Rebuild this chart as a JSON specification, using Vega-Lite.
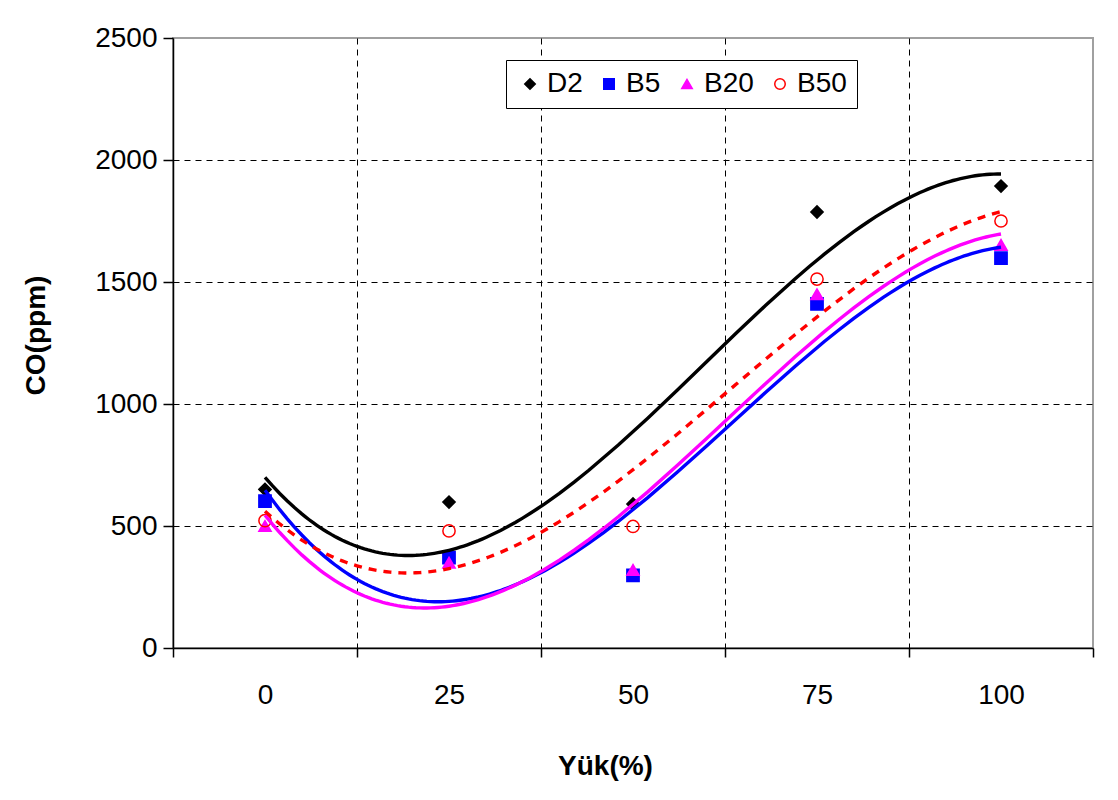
{
  "$schema": "https://vega.github.io/schema/vega-lite/v6.json",
  "width": 920,
  "height": 610,
  "autosize": {"type": "none"},
  "padding": {"left": 173, "top": 38, "right": 25, "bottom": 152},
  "background": "white",
  "config": {
    "font": "Liberation Sans",
    "view": {"stroke": "#a0a0a0", "strokeWidth": 2},
    "axis": {
      "labelFont": "Liberation Sans", "labelFontSize": 28, "labelColor": "black",
      "titleFont": "Liberation Sans", "titleFontSize": 28, "titleFontWeight": "bold", "titleColor": "black",
      "domainColor": "black", "domainWidth": 1.5, "tickColor": "black", "tickWidth": 1.5,
      "gridColor": "black", "gridDash": [6, 5], "gridOpacity": 1, "gridWidth": 1
    }
  },
  "data": {
    "values": [
      {"series": "D2", "load": 0, "co": 650},
      {"series": "D2", "load": 25, "co": 598},
      {"series": "D2", "load": 50, "co": 590},
      {"series": "D2", "load": 75, "co": 1787},
      {"series": "D2", "load": 100, "co": 1893},
      {"series": "B5", "load": 0, "co": 602},
      {"series": "B5", "load": 25, "co": 370},
      {"series": "B5", "load": 50, "co": 298},
      {"series": "B5", "load": 75, "co": 1410},
      {"series": "B5", "load": 100, "co": 1598},
      {"series": "B20", "load": 0, "co": 500},
      {"series": "B20", "load": 25, "co": 350},
      {"series": "B20", "load": 50, "co": 320},
      {"series": "B20", "load": 75, "co": 1450},
      {"series": "B20", "load": 100, "co": 1652},
      {"series": "B50", "load": 0, "co": 522},
      {"series": "B50", "load": 25, "co": 480},
      {"series": "B50", "load": 50, "co": 498},
      {"series": "B50", "load": 75, "co": 1512},
      {"series": "B50", "load": 100, "co": 1750}
    ]
  },
  "layer": [
    {
      "mark": {"type": "point", "filled": true, "opacity": 1, "strokeWidth": 1.5, "size": 150},
      "encoding": {
        "x": {
          "field": "load", "type": "quantitative",
          "scale": {"domain": [-12.5, 112.5], "nice": false, "zero": false},
          "axis": {"values": [-12.5, 12.5, 37.5, 62.5, 87.5, 112.5],
                   "labelExpr": "datum.value < 100 ? format(datum.value + 12.5, 'd') : ''",
                   "labelOffset": 92, "labelFlush": false, "labelOverlap": false, "labelBound": false,
                   "tickSize": 9, "labelPadding": 24,
                   "grid": true,
                   "gridOpacity": {"condition": {"test": "datum.value < 0 || datum.value > 100", "value": 0}, "value": 1},
                   "title": "Yük(%)", "titleX": 432, "titleY": 104, "titleBaseline": "top"}
        },
        "y": {
          "field": "co", "type": "quantitative",
          "scale": {"domain": [0, 2500], "nice": false},
          "axis": {"values": [0, 500, 1000, 1500, 2000, 2500], "format": "d", "tickSize": 10, "labelPadding": 6,
                   "gridOpacity": {"condition": {"test": "datum.value == 0 || datum.value == 2500", "value": 0}, "value": 1},
                   "title": "CO(ppm)", "titleX": -137, "titleY": 297, "titleBaseline": "middle"}
        },
        "fill": {
          "field": "series", "type": "nominal", "title": null,
          "scale": {"domain": ["D2", "B5", "B20", "B50"], "range": ["black", "blue", "magenta", "transparent"]}
        },
        "stroke": {
          "field": "series", "type": "nominal", "title": null,
          "scale": {"domain": ["D2", "B5", "B20", "B50"], "range": ["black", "blue", "magenta", "red"]}
        },
        "shape": {
          "field": "series", "type": "nominal", "title": null,
          "scale": {"domain": ["D2", "B5", "B20", "B50"], "range": ["diamond", "square", "triangle-up", "circle"]},
          "legend": {
            "orient": "none", "legendX": 333, "legendY": 22, "direction": "horizontal",
            "strokeColor": "black", "fillColor": "white", "padding": 10, "labelFontSize": 28,
            "labelFont": "Liberation Sans", "labelColor": "black", "symbolSize": 110, "labelOffset": 3,
            "columnPadding": 12, "symbolStrokeWidth": 1.5
          }
        }
      }
    },
    {
      "transform": [
        {"regression": "co", "on": "load", "groupby": ["series"], "method": "poly", "order": 3, "extent": [0, 100]},
        {"filter": "datum.series != 'B50'"}
      ],
      "mark": {"type": "line", "strokeWidth": 3.4},
      "encoding": {
        "x": {"field": "load", "type": "quantitative"},
        "y": {"field": "co", "type": "quantitative"},
        "color": {
          "field": "series", "type": "nominal",
          "scale": {"domain": ["D2", "B5", "B20", "B50"], "range": ["black", "blue", "magenta", "red"]},
          "legend": null
        }
      }
    },
    {
      "transform": [
        {"filter": "datum.series == 'B50'"},
        {"regression": "co", "on": "load", "method": "poly", "order": 3, "extent": [0, 100]}
      ],
      "mark": {"type": "line", "strokeWidth": 3.4, "color": "red", "strokeDash": [8, 7]},
      "encoding": {
        "x": {"field": "load", "type": "quantitative"},
        "y": {"field": "co", "type": "quantitative"}
      }
    }
  ]
}
